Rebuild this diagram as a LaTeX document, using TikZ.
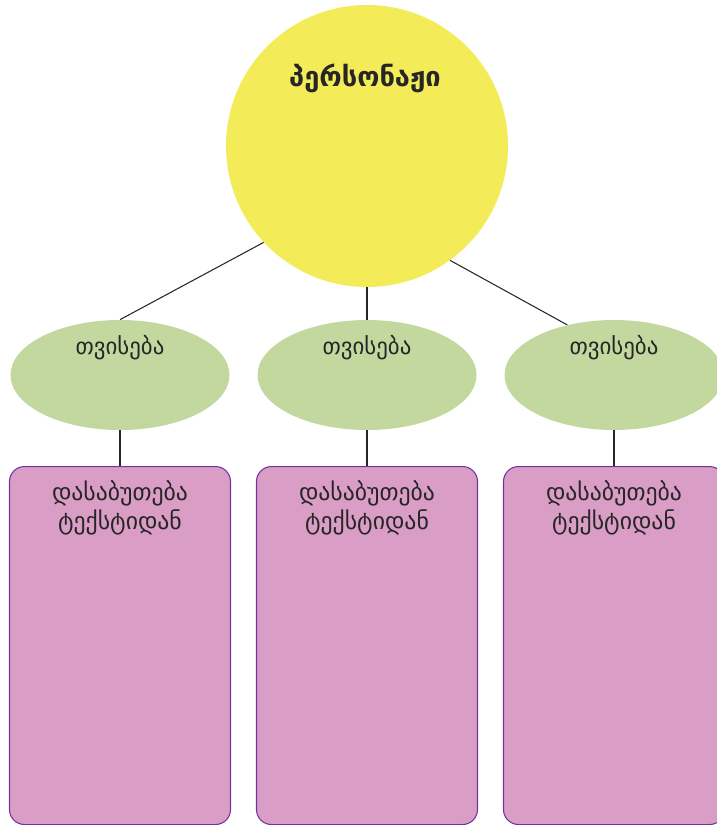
\documentclass[tikz,border=0pt]{standalone}
\usepackage{fontspec}
\usepackage{tikz}
\newfontfamily\geo{DejaVu Sans}
\definecolor{myyellow}{RGB}{243,236,88}
\definecolor{mygreen}{RGB}{195,216,159}
\definecolor{mypink}{RGB}{218,157,198}
\definecolor{mypurple}{RGB}{112,52,160}
\usetikzlibrary{shapes.geometric}

\begin{document}
\begin{tikzpicture}[x=0.2mm, y=-0.2mm,
  trait/.style={ellipse, fill=mygreen, minimum width=43.8mm, minimum height=22mm, inner sep=0pt},
  proof/.style={draw=mypurple, line width=0.6pt, fill=mypink, rounded corners=3mm, minimum width=44.2mm, minimum height=71.6mm, anchor=north},
  geotext/.style={font=\geo\fontsize{13}{16.5}\selectfont, text=black!85, align=center},
  prooftext/.style={font=\geo\fontsize{13.5}{16.5}\selectfont, text=black!85, align=center},
  link/.style={line width=0.6pt, black!85}]
  \useasboundingbox (0,0) rectangle (717,825);
  \clip (0,0) rectangle (717,825);
  % Hình tròn nhân vật
  \node[circle, fill=myyellow, minimum size=56.4mm, inner sep=0pt] (P) at (367,146) {};
  \node[font=\geo\bfseries\fontsize{15.5}{18}\selectfont, text=black!85] (Ptxt) at (365,78) {პერსონაჟი};
  % Các đặc điểm và hộp dẫn chứng
  \foreach \i/\x in {1/120, 2/367, 3/614} {
    \node[trait] (T\i) at (\x,375) {};
    \node[geotext] (T\i txt) at (\x,348) {თვისება};
    \node[proof] (E\i) at (\x,466) {};
    \node[prooftext] (E\i txt) at (\x,508) {დასაბუთება\\ტექსტიდან};
    \draw[link] (T\i.south) -- (E\i.north);
  }
  % Đường nối từ hình tròn
  \draw[link] (P.-137) -- (T1.north);
  \draw[link] (P.south) -- (T2.north);
  \draw[link] (P.-54) -- (T3.133);
\end{tikzpicture}
\end{document}
